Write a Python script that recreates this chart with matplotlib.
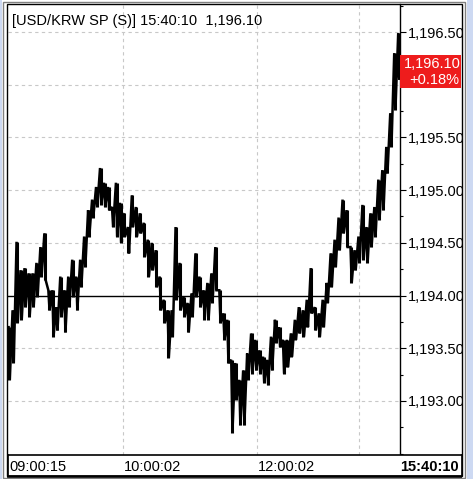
import matplotlib
matplotlib.use("Agg")
import matplotlib.pyplot as plt
from matplotlib.patches import Rectangle
from matplotlib.ticker import FixedLocator, MultipleLocator, FuncFormatter

# ---------------- data ----------------
title_text = "[USD/KRW SP (S)] 15:40:10  1,196.10"
last_price = 1196.10
change_text = "+0.18%"
prev_close = 1194.00

col_hi = [1193.70, 1193.86, 1194.51, 1194.24, 1194.26, 1194.21, 1194.21, 1194.31, 1194.46, 1194.59,
          1194.05, 1194.05, 1193.89, 1194.18, 1194.05, 1194.18, 1194.34, 1194.18, 1194.34, 1194.56,
          1194.81, 1194.91, 1195.03, 1195.21, 1195.07, 1195.03, 1194.84, 1195.07, 1194.88, 1194.78,
          1194.65, 1194.95, 1194.84, 1194.78, 1194.69, 1194.53, 1194.50, 1194.43, 1194.18, 1193.96,
          1193.86, 1193.86, 1194.65, 1194.31, 1193.99, 1193.93, 1194.02, 1194.40, 1194.18, 1194.05,
          1194.12, 1194.21, 1194.46, 1194.05, 1193.83, 1193.77, 1193.39, 1193.36, 1193.20, 1193.29,
          1193.45, 1193.64, 1193.58, 1193.48, 1193.42, 1193.39, 1193.61, 1193.77, 1193.70, 1193.58,
          1193.58, 1193.64, 1193.77, 1193.89, 1193.86, 1193.96, 1194.26, 1193.89, 1193.83, 1193.96,
          1194.12, 1194.40, 1194.53, 1194.74, 1194.91, 1194.81, 1194.46, 1194.43, 1194.56, 1194.86,
          1194.65, 1194.78, 1194.84, 1195.10, 1195.19, 1195.41, 1195.73, 1196.30, 1196.49]

col_lo = [1193.20, 1193.36, 1193.74, 1193.77, 1193.89, 1193.80, 1193.89, 1193.99, 1194.18, 1194.15,
          1193.86, 1193.61, 1193.67, 1193.80, 1193.65, 1193.89, 1193.99, 1193.86, 1194.08, 1194.27,
          1194.56, 1194.74, 1194.84, 1194.86, 1194.84, 1194.81, 1194.65, 1194.56, 1194.50, 1194.56,
          1194.40, 1194.65, 1194.56, 1194.59, 1194.37, 1194.18, 1194.24, 1194.08, 1193.86, 1193.74,
          1193.41, 1193.61, 1193.96, 1193.86, 1193.80, 1193.65, 1193.80, 1193.99, 1193.89, 1193.77,
          1193.77, 1193.93, 1194.05, 1193.74, 1193.58, 1193.36, 1192.70, 1193.01, 1192.77, 1192.77,
          1193.20, 1193.26, 1193.29, 1193.26, 1193.17, 1193.15, 1193.29, 1193.55, 1193.51, 1193.26,
          1193.32, 1193.42, 1193.58, 1193.64, 1193.61, 1193.70, 1193.83, 1193.67, 1193.61, 1193.70,
          1193.93, 1194.08, 1194.27, 1194.43, 1194.59, 1194.46, 1194.12, 1194.24, 1194.31, 1194.34,
          1194.31, 1194.46, 1194.56, 1194.72, 1194.81, 1195.16, 1195.41, 1195.76, 1196.05]

y_ticks = [1193.0, 1193.5, 1194.0, 1194.5, 1195.0, 1195.5, 1196.0, 1196.5]
time_labels = ["09:00:15", "10:00:02", "12:00:02"]
time_pos = [0, 28.75, 62.25]
vgrid_pos = [28.75, 62.25, 88]
end_time_label = "15:40:10"

# ---------------- figure ----------------
W, H = 473, 479
fig = plt.figure(figsize=(W / 100, H / 100), dpi=100)
fig.patch.set_facecolor("white")
FONT = "Liberation Sans"
FS = 10.5


def box(x0, y0, x1, y1):
    return [x0 / W, 1 - y1 / H, (x1 - x0) / W, (y1 - y0) / H]


ax = fig.add_axes(box(8, 4, 400, 455))
ax.set_facecolor("white")

n = len(col_hi)
idx = list(range(n))
# vertical high-low strokes for each column
ax.vlines(idx, col_lo, col_hi, color="black", lw=2.2, zorder=3)
# connecting sawtooth: high -> low in each column, then on to next high
xs, ys = [], []
for i, (h, l) in enumerate(zip(col_hi, col_lo)):
    xs += [i - 0.15, i + 0.15]
    ys += [h, l]
xs.append(n - 1)
ys.append(last_price)
ax.plot(xs, ys, color="black", lw=1.8, solid_joinstyle="miter", zorder=3)

ax.set_xlim(-0.3, 98.3)
ax.set_ylim(1192.487, 1196.766)

# grid
for v in y_ticks:
    if v != prev_close:
        ax.axhline(v, color="#c8c8c8", lw=0.8, ls=(0, (3, 3)), zorder=1)
ax.axhline(prev_close, color="black", lw=1.0, zorder=2)
for p in vgrid_pos:
    ax.axvline(p, color="#c8c8c8", lw=0.8, ls=(0, (3, 3)), zorder=1)

for s in ["top", "left", "bottom"]:
    ax.spines[s].set_visible(False)
ax.spines["right"].set_color("black")
ax.spines["right"].set_linewidth(1.0)
ax.set_xticks([])
ax.yaxis.tick_right()
ax.yaxis.set_major_locator(FixedLocator(y_ticks))
ax.yaxis.set_minor_locator(MultipleLocator(0.25))
ax.yaxis.set_major_formatter(
    FuncFormatter(lambda v, p: "" if abs(v - 1196.0) < 1e-6 else f"{v:,.2f}"))
ax.tick_params(axis="y", which="major", length=4, width=0.8, direction="out",
               pad=2, labelsize=FS, colors="black")
ax.tick_params(axis="y", which="minor", length=2, width=0.8, direction="out")
for t in ax.get_yticklabels():
    t.set_fontfamily(FONT)

ax.text(0.01, 0.977, title_text, transform=ax.transAxes, ha="left", va="top",
        fontsize=FS, family=FONT, color="black", zorder=5)

# red last-price box (figure level)
fig.patches.append(Rectangle((400 / W, 1 - 88 / H), 61 / W, 33 / H,
                             transform=fig.transFigure, facecolor="#ee1c1c",
                             edgecolor="none", zorder=5))
fig.text(461 / W, 1 - 64 / H, f"{last_price:,.2f}", ha="right", va="center",
         color="white", fontsize=FS, family=FONT, zorder=6)
fig.text(459 / W, 1 - 80 / H, change_text, ha="right", va="center",
         color="white", fontsize=FS, family=FONT, zorder=6)

# bottom time axis panel
bx = fig.add_axes(box(8, 455, 462, 476))
bx.set_xlim(0, 1)
bx.set_ylim(0, 1)
bx.set_xticks([])
bx.set_yticks([])
for s in bx.spines.values():
    s.set_color("black")
    s.set_linewidth(1.2)
bx.spines["bottom"].set_linewidth(2.0)
for lab, p in zip(time_labels, time_pos):
    xpix = 8 + p / 98 * 392
    bx.text((xpix + 1 - 8) / 454, 0.45, lab, ha="left", va="center", fontsize=FS,
            family=FONT, color="black")
bx.text(0.993, 0.45, end_time_label, ha="right", va="center", fontsize=FS,
        family=FONT, weight="bold", color="black")

# clip region beyond right frame, frames, window edges
fig.patches.append(Rectangle((462 / W, 0), 11 / W, 1, transform=fig.transFigure,
                             facecolor="white", edgecolor="none", zorder=7))
fig.patches.append(Rectangle((467 / W, 0), 6 / W, 1, transform=fig.transFigure,
                             facecolor="#cdd9f2", edgecolor="none", zorder=8))
fig.patches.append(Rectangle((0, 0), 2 / W, 1, transform=fig.transFigure,
                             facecolor="#cdd9f2", edgecolor="none", zorder=8))
fig.patches.append(Rectangle((7 / W, 1 - 476 / H), 455 / W, 472 / H,
                             transform=fig.transFigure, facecolor="none",
                             edgecolor="black", lw=1.0, zorder=9))
fig.patches.append(Rectangle((3 / W, 1 - 478 / H), 462 / W, 476 / H,
                             transform=fig.transFigure, facecolor="none",
                             edgecolor="#808080", lw=1.0, zorder=9))

fig.savefig("out.png", dpi=100, facecolor=fig.get_facecolor())
